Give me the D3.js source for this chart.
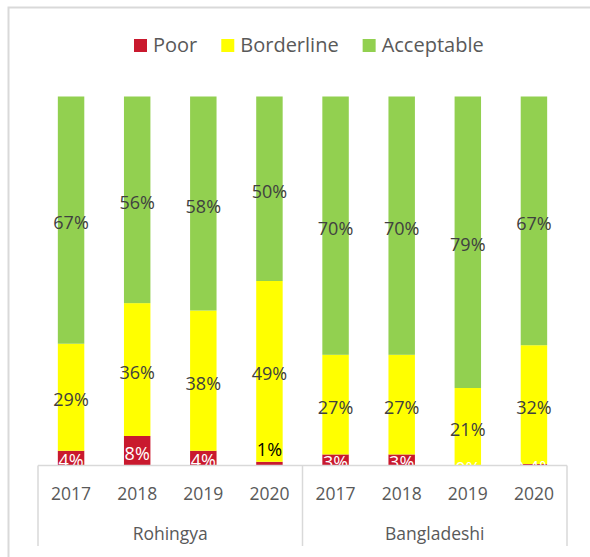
<!DOCTYPE html>
<html>
<head>
<meta charset="utf-8">
<script src="https://cdn.jsdelivr.net/npm/d3@7"></script>
<style>
  body { margin: 0; background: #fff; }
  text { font-family: "Open Sans", "Noto Sans", sans-serif; }
</style>
</head>
<body>
<div id="chart"></div>
<script>
// Data
const groups = ["Rohingya", "Bangladeshi"];
const years = ["2017", "2018", "2019", "2020"];
const series = ["Poor", "Borderline", "Acceptable"];
const poor = [4, 8, 4, 1, 3, 3, 0, 0.4];
const borderline = [29, 36, 38, 49, 27, 27, 21, 32];
const acceptable = [67, 56, 58, 50, 70, 70, 79, 67];
const colors = ["#C9192E", "#FFFF00", "#92D050"];

//Set variables for total SVG dimensions
const svgWidth = 590;
const svgHeight = 557;

// build one row per bar
const rows = [];
groups.forEach((g, gi) => {
    years.forEach((y, yi) => {
        const i = gi * years.length + yi;
        rows.push({ key: g + "-" + y, group: g, year: y, Poor: poor[i], Borderline: borderline[i], Acceptable: acceptable[i] });
    });
});

let svg = d3.select("#chart")
    .append("svg")
    .attr("width", svgWidth)
    .attr("height", svgHeight);

//Scales
const axisLeft = 38, axisRight = 567, baseY = 465.5, topY = 96.5;

const x = d3.scaleBand()
    .domain(rows.map(d => d.key))
    .range([axisLeft, axisRight])
    .paddingInner(0.6)
    .paddingOuter(0.3);

const y = d3.scaleLinear()
    .domain([0, 1])
    .range([baseY, topY]);

const stacked = d3.stack()
    .keys(series)
    .offset(d3.stackOffsetExpand)(rows);

//Bars
const layers = svg.append("g")
    .selectAll("g")
    .data(stacked)
    .enter()
    .append("g")
    .attr("fill", (d, i) => colors[i]);

layers.selectAll("rect")
    .data(d => d)
    .enter()
    .append("rect")
    .attr("x", d => x(d.data.key))
    .attr("width", x.bandwidth())
    .attr("y", d => y(d[1]))
    .attr("height", d => y(d[0]) - y(d[1]));

//Data labels, drawn on top of every bar
const labelG = svg.append("g");
stacked.forEach(layer => {
    labelG.append("g")
        .selectAll("text")
        .data(layer)
        .enter()
        .append("text")
        .attr("x", d => x(d.data.key) + x.bandwidth() / 2)
        .attr("y", d => {
            let cy = (y(d[0]) + y(d[1])) / 2;
            // the tiny Rohingya 2020 label was moved up onto the yellow
            if (layer.key === "Poor" && d.data.key === "Rohingya-2020") cy -= 17;
            return cy;
        })
        .attr("dy", "0.5em")
        .attr("text-anchor", "middle")
        .attr("font-size", "18px")
        .attr("fill", d => {
            if (layer.key !== "Poor") return "#404040";
            return d.data.key === "Rohingya-2020" ? "#000" : "#fff";
        })
        .text(d => d.data[layer.key] + "%");
});

//Axis area covers what hangs below the baseline
svg.append("rect")
    .attr("x", 10)
    .attr("y", baseY)
    .attr("width", svgWidth)
    .attr("height", svgHeight - baseY)
    .attr("fill", "#fff");

const axisG = svg.append("g")
    .attr("stroke", "#d9d9d9")
    .attr("stroke-width", 1.5);

axisG.append("line")
    .attr("x1", axisLeft).attr("x2", axisRight)
    .attr("y1", baseY).attr("y2", baseY);

[axisLeft, (axisLeft + axisRight) / 2, axisRight].forEach(px => {
    axisG.append("line")
        .attr("x1", px).attr("x2", px)
        .attr("y1", baseY).attr("y2", 546);
});

//Year tick labels
svg.append("g")
    .selectAll("text")
    .data(rows)
    .enter()
    .append("text")
    .attr("x", d => x(d.key) + x.bandwidth() / 2)
    .attr("y", 500)
    .attr("text-anchor", "middle")
    .attr("font-size", "17.5px")
    .attr("fill", "#595959")
    .text(d => d.year);

//Group labels
svg.append("g")
    .selectAll("text")
    .data(groups)
    .enter()
    .append("text")
    .attr("x", g => {
        const keys = rows.filter(r => r.group === g).map(r => x(r.key) + x.bandwidth() / 2);
        return d3.mean(keys);
    })
    .attr("y", 540)
    .attr("text-anchor", "middle")
    .attr("font-size", "17.5px")
    .attr("fill", "#595959")
    .text(g => g);

//Legend
const legend = svg.append("g");
let lx = 134;
series.forEach((s, i) => {
    legend.append("rect")
        .attr("x", lx)
        .attr("y", 39)
        .attr("width", 13)
        .attr("height", 13)
        .attr("fill", colors[i]);
    const t = legend.append("text")
        .attr("x", lx + 19)
        .attr("y", 52)
        .attr("font-size", "20px")
        .attr("fill", "#595959")
        .text(s);
    lx += 19 + t.node().getComputedTextLength() + 24;
});

//Chart frame
svg.append("path")
    .attr("d", `M8.5,${svgHeight} V7.5 H${svgWidth}`)
    .attr("fill", "none")
    .attr("stroke", "#d9d9d9")
    .attr("stroke-width", 2);
</script>
</body>
</html>
